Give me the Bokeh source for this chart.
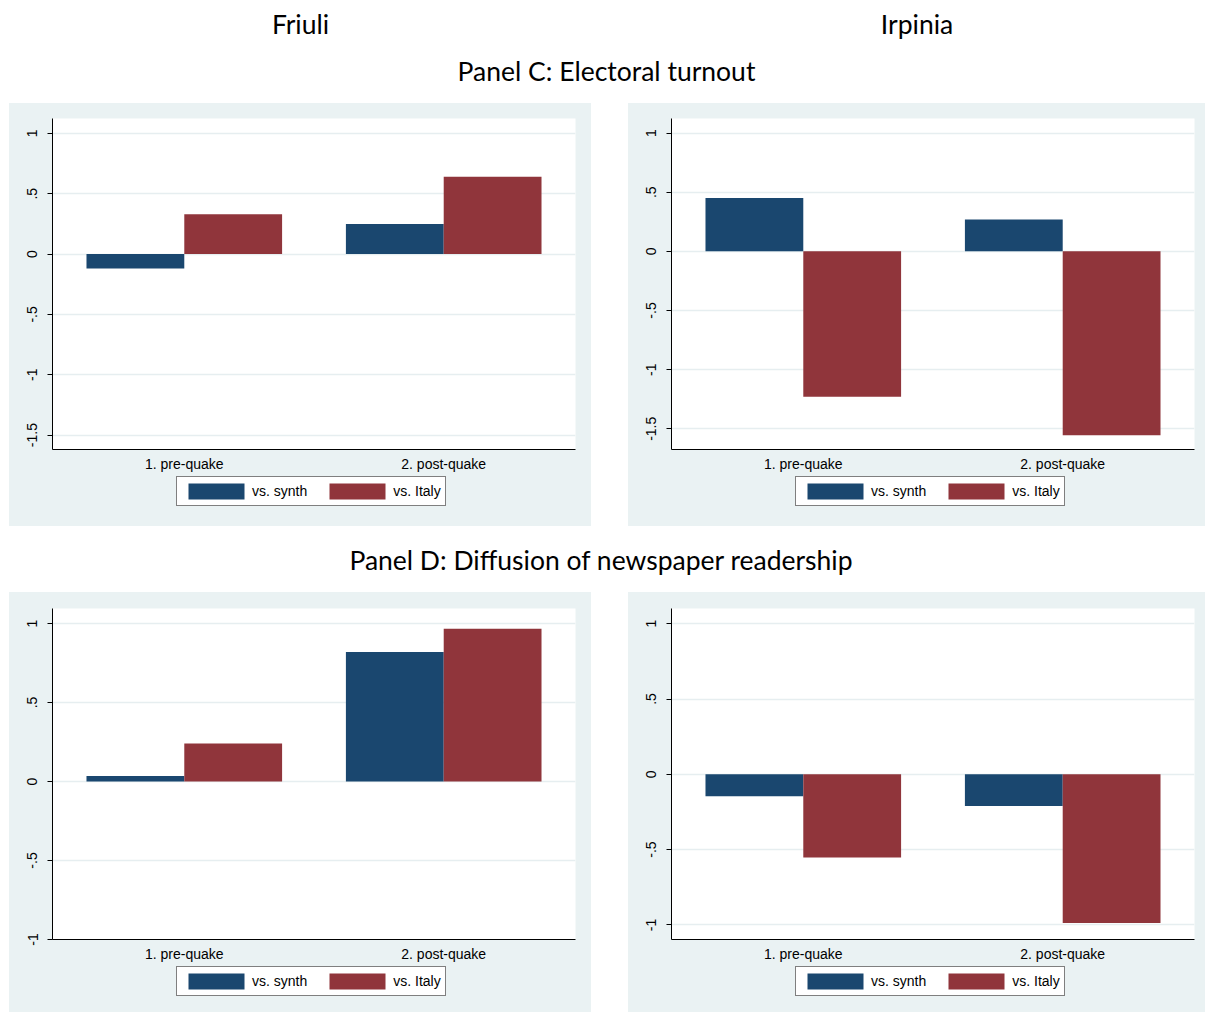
import numpy as np
from bokeh.plotting import figure
from bokeh.models import Range1d, FixedTicker, Legend, LegendItem, Spacer
from bokeh.layouts import column, row
from bokeh.core.properties import value
from bokeh.embed import file_html
from bokeh.resources import INLINE

# ---- data -------------------------------------------------------------
categories = ["1. pre-quake", "2. post-quake"]
series_names = ["vs. synth", "vs. Italy"]

turnout_friuli_synth = [-0.12, 0.25]
turnout_friuli_italy = [0.33, 0.64]
turnout_irpinia_synth = [0.45, 0.27]
turnout_irpinia_italy = [-1.23, -1.555]

readership_friuli_synth = [0.035, 0.82]
readership_friuli_italy = [0.24, 0.967]
readership_irpinia_synth = [-0.145, -0.21]
readership_irpinia_italy = [-0.552, -0.988]

turnout_ticks = [-1.5, -1, -0.5, 0, 0.5, 1]
readership_ticks = [-1, -0.5, 0, 0.5, 1]
tick_text = {-1.5: "-1.5", -1: "-1", -0.5: "-.5", 0: "0", 0.5: ".5", 1: "1"}

region_names = ["Friuli", "Irpinia"]
panel_titles = ["Panel C: Electoral turnout", "Panel D: Diffusion of newspaper readership"]

# ---- style ------------------------------------------------------------
NAVY = "#1A476F"
MAROON = "#90353B"
REGION_BG = "#EAF2F3"
GRID = "#E6EEF0"
AXIS_FONT = "Liberation Sans"
HEAD_FONT = "Lato"

PAGE_W = 1205
HEADER_H = 103
GAP_H = 66
LEFT_PAD = 9
MID_PAD = 37
W_LEFT = 582
W_RIGHT = 577
FRAME_H = 331
AXIS_BAND = 26
BAR_W = 0.377
COLORS = [NAVY, MAROON]


def bar_plot(synth, italy, ticks, y_lo, y_hi, width, border_top, border_right):
    pos = np.arange(1, len(categories) + 1)
    height = border_top + FRAME_H + AXIS_BAND
    p = figure(width=width, height=height, output_backend="svg", toolbar_location=None,
               x_range=Range1d(0.492, len(categories) + 0.508),
               y_range=Range1d(y_lo, y_hi),
               min_border_left=43, min_border_right=border_right,
               min_border_top=border_top, min_border_bottom=AXIS_BAND)
    p.background_fill_color = "white"
    p.border_fill_color = REGION_BG
    p.outline_line_color = None

    p.vbar(x=pos - BAR_W / 2, top=synth, bottom=0, width=BAR_W,
           fill_color=NAVY, line_color=None)
    p.vbar(x=pos + BAR_W / 2, top=italy, bottom=0, width=BAR_W,
           fill_color=MAROON, line_color=None)

    p.xgrid.visible = False
    p.ygrid.grid_line_color = GRID
    p.ygrid.grid_line_width = 1.5
    p.ygrid.ticker = FixedTicker(ticks=ticks)

    xa = p.xaxis[0]
    xa.ticker = FixedTicker(ticks=[int(v) for v in pos])
    xa.major_label_overrides = {int(k): c for k, c in zip(pos, categories)}
    xa.major_tick_line_color = None
    xa.minor_tick_line_color = None
    xa.axis_line_color = "black"
    xa.major_label_text_font = AXIS_FONT
    xa.major_label_text_font_size = "14px"
    xa.major_label_text_color = "black"
    xa.major_label_standoff = 0

    ya = p.yaxis[0]
    ya.ticker = FixedTicker(ticks=ticks)
    ya.major_label_overrides = tick_text
    ya.major_label_orientation = "vertical"
    ya.major_tick_out = 5
    ya.major_tick_in = 0
    ya.minor_tick_line_color = None
    ya.axis_line_color = "black"
    ya.major_tick_line_color = "black"
    ya.major_label_text_font = AXIS_FONT
    ya.major_label_text_font_size = "14px"
    ya.major_label_text_color = "black"
    ya.major_label_standoff = 10
    return p


def legend_strip(width, height, box_bottom):
    """Key for the two series, on the grey band under a bar plot."""
    s = figure(width=width, height=height, output_backend="svg", toolbar_location=None,
               x_range=Range1d(0, 1), y_range=Range1d(0, 1), min_border=0)
    s.axis.visible = False
    s.grid.visible = False
    s.outline_line_color = None
    s.background_fill_color = REGION_BG
    s.border_fill_color = REGION_BG
    items = []
    for name, col in zip(series_names, COLORS):
        # zero-area swatch source: only its colour is used, by the key
        r = s.quad(left=[0], right=[0], top=[0], bottom=[0],
                   fill_color=col, line_color=None)
        items.append(LegendItem(label=name, renderers=[r]))
    legend = Legend(items=items, orientation="horizontal", location=(124, box_bottom))
    legend.border_line_color = "black"
    legend.border_line_width = 1
    legend.background_fill_color = "white"
    legend.background_fill_alpha = 1
    # area swatches are inset by 10% of the glyph cell on each side
    legend.padding = 4
    legend.spacing = 15
    legend.label_standoff = 1
    legend.glyph_width = 70
    legend.glyph_height = 20
    legend.label_height = 20
    legend.label_text_font = AXIS_FONT
    legend.label_text_font_size = "14px"
    legend.label_text_color = "black"
    legend.margin = 0
    s.add_layout(legend)
    return s


def panel(synth, italy, ticks, y_lo, y_hi, width, total_h, border_top, border_right, box_bottom):
    p = bar_plot(synth, italy, ticks, y_lo, y_hi, width, border_top, border_right)
    key = legend_strip(width, total_h - (border_top + FRAME_H + AXIS_BAND), box_bottom)
    return column(p, key, spacing=0, styles={"background-color": REGION_BG})


def text_strip(height, xs, ys, texts):
    s = figure(width=PAGE_W, height=height, output_backend="svg", toolbar_location=None,
               x_range=Range1d(0, PAGE_W), y_range=Range1d(height, 0),
               min_border=0)
    s.axis.visible = False
    s.grid.visible = False
    s.outline_line_color = None
    s.background_fill_color = "white"
    s.border_fill_color = "white"
    s.text(x=xs, y=ys, text=texts, text_font=value(HEAD_FONT), text_font_size="26.5px",
           text_align="center", text_baseline="alphabetic", text_color="black")
    return s


left_center = LEFT_PAD + W_LEFT / 2
right_center = LEFT_PAD + W_LEFT + MID_PAD + W_RIGHT / 2

header = text_strip(HEADER_H, [left_center, right_center, 606],
                    [23, 23, 70], region_names + [panel_titles[0]])
middle = text_strip(GAP_H, [601], [33], [panel_titles[1]])

pa = panel(turnout_friuli_synth, turnout_friuli_italy, turnout_ticks,
           -1.619, 1.123, W_LEFT, 423, 15, 16, 20)
pb = panel(turnout_irpinia_synth, turnout_irpinia_italy, turnout_ticks,
           -1.675, 1.123, W_RIGHT, 423, 15, 11, 20)
pc = panel(readership_friuli_synth, readership_friuli_italy, readership_ticks,
           -1.0, 1.095, W_LEFT, 420, 16, 16, 16)
pd = panel(readership_irpinia_synth, readership_irpinia_italy, readership_ticks,
           -1.097, 1.101, W_RIGHT, 420, 16, 11, 16)

row1 = row(Spacer(width=LEFT_PAD, height=423), pa, Spacer(width=MID_PAD, height=423), pb)
row2 = row(Spacer(width=LEFT_PAD, height=420), pc, Spacer(width=MID_PAD, height=420), pd)
page = column(header, row1, middle, row2)

open("out.html", "w").write(file_html(page, INLINE))
